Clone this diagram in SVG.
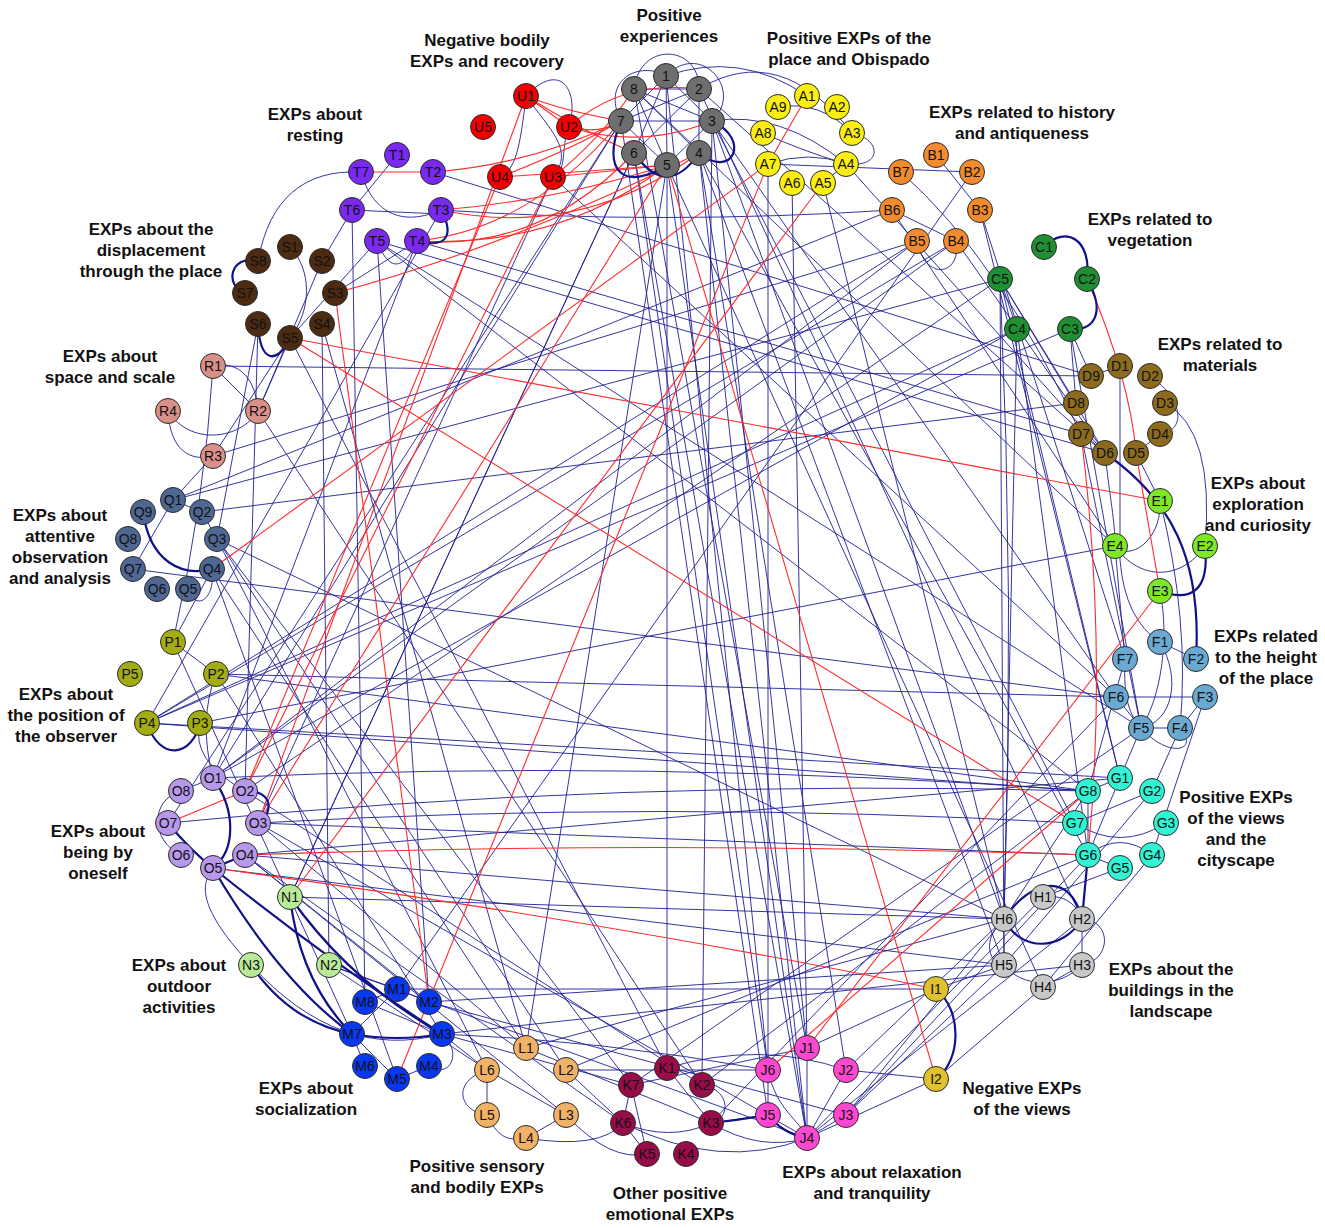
<svg xmlns="http://www.w3.org/2000/svg" width="1325" height="1228" viewBox="0 0 1325 1228">
<style>
.e{fill:none;stroke:#1f1f96;stroke-width:1;stroke-opacity:0.9}
.t{fill:none;stroke:#111188;stroke-width:2.2}
.r{fill:none;stroke:#ff2b2b;stroke-width:1.1}
circle{stroke:#2a2a2a;stroke-width:1}
.nl{font-family:"Liberation Sans",Arial,sans-serif;font-size:14px;fill:#111;text-anchor:middle}
.gl{font-family:"Liberation Sans",Arial,sans-serif;font-size:17px;font-weight:bold;fill:#111;text-anchor:middle}
.cP{fill:#6e6e6e}.cU{fill:#f20000}.cA{fill:#fbee10}.cB{fill:#f28a2e}.cC{fill:#1f8f33}
.cD{fill:#8c6b1e}.cE{fill:#7ee827}.cF{fill:#6aaad2}.cG{fill:#33f3d5}.cH{fill:#c8c8c8}
.cI{fill:#e0c22e}.cJ{fill:#ff48d2}.cK{fill:#990c4a}.cL{fill:#f0b266}.cM{fill:#0a37f2}
.cN{fill:#b8eb98}.cO{fill:#b898ea}.cQ2{fill:#a4ac14}.cQ{fill:#4f6893}.cR{fill:#d89088}
.cS{fill:#4d2b12}.cT{fill:#7a2af0}
</style>
<rect width="1325" height="1228" fill="#ffffff"/>
<g id="edges">
<path class="e" d="M666,76 L712,121"/><path class="e" d="M666,76 L667,165"/><path class="e" d="M666,76 L634,153"/>
<path class="e" d="M666,76 L621,121"/><path class="e" d="M699,89 L699,153"/><path class="e" d="M699,89 L634,153"/>
<path class="e" d="M699,89 L621,121"/><path class="e" d="M699,89 L634,89"/><path class="e" d="M634,89 L699,153"/>
<path class="e" d="M634,89 L667,165"/><path class="e" d="M634,89 L712,121"/><path class="e" d="M621,121 L712,121"/>
<path class="e" d="M667,165 L712,121"/><path class="e" d="M621,121 L667,165"/>
<path class="e" d="M666,76 C700,40 745,90 712,121"/><path class="e" d="M634,89 C640,40 700,45 699,89"/>
<path class="e" d="M621,121 C600,80 640,60 666,76"/>
<path class="e" d="M526,96 C560,60 580,90 569,127"/><path class="e" d="M526,96 C550,130 575,150 553,177"/>
<path class="e" d="M526,96 C520,150 515,170 500,177"/><path class="e" d="M569,127 C560,150 568,170 553,177"/>
<path class="e" d="M361,172 C370,205 395,230 441,210"/><path class="e" d="M352,210 L441,214"/>
<path class="e" d="M397,155 L352,210"/><path class="e" d="M377,241 C390,275 405,268 417,241"/>
<path class="e" d="M352,210 L322,261"/><path class="e" d="M361,172 Q275,168 258,261"/>
<path class="e" d="M441,210 Q660,225 892,210"/><path class="e" d="M433,172 L1091,376"/>
<path class="e" d="M377,241 L1141,728"/><path class="e" d="M377,241 L1088,791"/>
<path class="e" d="M417,241 L1081,434"/><path class="e" d="M377,241 L1105,453"/>
<path class="e" d="M352,210 L365,1002"/><path class="e" d="M377,241 L429,1002"/>
<path class="e" d="M377,241 L290,338"/><path class="e" d="M441,210 L147,723"/>
<path class="e" d="M417,241 L213,778"/>
<path class="e" d="M778,107 Q820,100 852,133"/><path class="e" d="M768,164 Q810,150 846,164"/>
<path class="e" d="M846,164 C885,168 880,138 852,133"/><path class="e" d="M763,133 Q800,150 846,164"/>
<path class="e" d="M823,183 L846,164"/><path class="e" d="M699,89 Q780,40 852,133"/>
<path class="e" d="M666,76 Q740,50 807,96"/><path class="e" d="M712,121 Q780,110 846,164"/>
<path class="e" d="M768,164 L768,1070"/><path class="e" d="M792,183 L807,1048"/>
<path class="e" d="M846,164 L1105,453"/><path class="e" d="M823,183 L1004,919"/>
<path class="e" d="M936,155 L980,210"/><path class="e" d="M972,172 L397,989"/>
<path class="e" d="M972,172 L768,164"/><path class="e" d="M892,210 L956,241"/>
<path class="e" d="M917,241 C925,282 962,276 956,241"/><path class="e" d="M892,210 L1115,546"/>
<path class="e" d="M901,172 Q1000,260 1081,434"/><path class="e" d="M980,210 L1120,778"/>
<path class="e" d="M980,210 L1125,659"/><path class="e" d="M956,241 L1105,453"/>
<path class="e" d="M956,241 L213,778"/><path class="e" d="M917,241 L147,723"/>
<path class="e" d="M956,241 L147,723"/><path class="e" d="M917,241 L213,456"/>
<path class="e" d="M1000,279 L1017,329"/><path class="e" d="M1000,279 L1004,965"/>
<path class="e" d="M1017,329 L1004,919"/><path class="e" d="M1000,279 Q1015,600 1004,919"/>
<path class="e" d="M1070,329 L1141,728"/><path class="e" d="M1000,279 L1105,453"/>
<path class="e" d="M1070,329 L147,723"/><path class="e" d="M1017,329 L213,778"/>
<path class="e" d="M1000,279 L245,791"/><path class="e" d="M1000,279 L1120,778"/>
<path class="e" d="M1070,329 L1076,403"/><path class="e" d="M1017,329 L1088,855"/>
<path class="e" d="M1091,376 L1120,366"/><path class="e" d="M1160,434 C1188,430 1182,398 1150,376"/>
<path class="e" d="M1105,453 L1081,434"/><path class="e" d="M1136,453 L1160,434"/>
<path class="e" d="M1076,403 L1000,279"/><path class="e" d="M1091,376 L1070,329"/>
<path class="e" d="M1091,376 L213,366"/><path class="e" d="M1076,403 L202,512"/>
<path class="e" d="M1136,453 L1160,501"/><path class="e" d="M1105,453 C1110,500 1115,520 1115,546"/>
<path class="e" d="M1120,366 L1120,560 Q1125,620 1160,642"/><path class="e" d="M1081,434 L1141,728"/>
<path class="e" d="M1165,403 Q1215,430 1205,546"/>
<path class="e" d="M1115,546 C1140,582 1182,580 1205,546"/><path class="e" d="M1160,501 C1162,540 1130,562 1115,546"/>
<path class="e" d="M1115,546 L1125,659"/><path class="e" d="M1160,591 C1170,640 1160,700 1141,728"/>
<path class="e" d="M1160,501 Q1190,620 1180,728"/>
<path class="e" d="M1160,642 L1196,659"/><path class="e" d="M1141,728 L1180,728"/>
<path class="e" d="M1116,697 L1141,728"/><path class="e" d="M1205,697 L1180,728"/>
<path class="e" d="M1160,642 C1182,680 1172,722 1141,728"/><path class="e" d="M1116,697 L1205,697"/>
<path class="e" d="M1125,659 C1123,700 1130,715 1141,728"/><path class="e" d="M1141,728 L1120,778"/>
<path class="e" d="M1180,728 L1152,791"/><path class="e" d="M1125,659 L1088,791"/>
<path class="e" d="M133,569 L1116,697"/><path class="e" d="M216,674 L1116,697"/>
<path class="e" d="M1141,728 C1170,760 1200,750 1180,728"/><path class="e" d="M1205,697 L1152,855"/>
<path class="e" d="M1088,791 L1120,778"/><path class="e" d="M1075,823 L1152,791"/>
<path class="e" d="M1088,855 L1120,868"/><path class="e" d="M1075,823 Q1120,852 1166,823"/>
<path class="e" d="M1088,855 L1120,778"/><path class="e" d="M1088,855 Q1120,830 1152,855"/>
<path class="e" d="M1088,791 L1088,855"/>
<path class="e" d="M1043,897 Q1072,893 1082,919"/><path class="e" d="M1082,919 L1082,965"/>
<path class="e" d="M1004,919 L1004,965"/><path class="e" d="M1004,965 C1022,988 1060,988 1082,965"/>
<path class="e" d="M1043,897 L1120,868"/><path class="e" d="M1004,919 L1088,791"/>
<path class="e" d="M1043,987 L1152,855"/><path class="e" d="M1082,919 C1112,920 1112,960 1082,965"/>
<path class="e" d="M1004,919 C980,940 990,965 1004,965"/><path class="e" d="M1043,987 L1082,965"/>
<path class="e" d="M1004,965 L1152,791"/>
<path class="e" d="M936,989 L1004,965"/><path class="e" d="M936,1079 L1043,987"/>
<path class="e" d="M936,989 L807,1048"/><path class="e" d="M936,1079 L807,1138"/>
<path class="e" d="M936,1079 L846,1070"/>
<path class="e" d="M768,1070 L768,1115"/><path class="e" d="M807,1138 L846,1115"/>
<path class="e" d="M807,1048 L807,1138"/><path class="e" d="M768,1070 C776,1110 800,1120 807,1138"/>
<path class="e" d="M846,1070 L807,1138"/><path class="e" d="M846,1115 L1004,965"/>
<path class="e" d="M846,1115 L1004,919"/><path class="e" d="M807,1138 L1043,897"/>
<path class="e" d="M846,1070 L1004,919"/><path class="e" d="M807,1138 L1082,919"/>
<path class="e" d="M768,1070 L634,153"/><path class="e" d="M807,1138 L667,165"/>
<path class="e" d="M807,1138 L634,153"/><path class="e" d="M807,1048 L634,89"/>
<path class="e" d="M768,1115 L621,121"/><path class="e" d="M807,1138 L699,153"/>
<path class="e" d="M807,1048 L712,121"/><path class="e" d="M768,1070 L666,76"/>
<path class="e" d="M846,1070 L699,153"/><path class="e" d="M807,1138 Q760,1152 711,1123"/>
<path class="e" d="M807,1138 Q720,1172 623,1123"/><path class="e" d="M846,1115 L1088,855"/>
<path class="e" d="M667,1068 L711,1123"/><path class="e" d="M631,1085 L623,1123"/>
<path class="e" d="M623,1123 L647,1154"/><path class="e" d="M631,1085 L647,1154"/>
<path class="e" d="M711,1123 L768,1115"/><path class="e" d="M702,1085 C732,1090 730,1120 711,1123"/>
<path class="e" d="M667,1068 L667,165"/><path class="e" d="M702,1085 L712,121"/>
<path class="e" d="M667,1068 Q760,1040 846,1070"/><path class="e" d="M631,1085 L807,1048"/>
<path class="e" d="M623,1123 Q670,1142 711,1123"/><path class="e" d="M631,1085 L217,539"/>
<path class="e" d="M702,1085 L258,411"/><path class="e" d="M623,1123 L245,855"/>
<path class="e" d="M711,1123 L1116,697"/><path class="e" d="M702,1085 L1088,791"/>
<path class="e" d="M631,1085 L1141,728"/>
<path class="e" d="M487,1070 L487,1115"/><path class="e" d="M487,1115 C500,1142 512,1140 526,1138"/>
<path class="e" d="M526,1138 L566,1115"/><path class="e" d="M487,1070 L566,1115"/>
<path class="e" d="M566,1070 L623,1123"/><path class="e" d="M526,1048 L711,1123"/>
<path class="e" d="M526,1048 L1004,919"/><path class="e" d="M566,1070 L1088,855"/>
<path class="e" d="M487,1070 C450,1082 460,1112 487,1115"/><path class="e" d="M566,1070 L217,539"/>
<path class="e" d="M526,1048 L212,569"/><path class="e" d="M487,1070 L442,1034"/>
<path class="e" d="M566,1115 Q610,1162 647,1154"/><path class="e" d="M526,1048 L667,165"/>
<path class="e" d="M566,1070 L768,1070"/><path class="e" d="M526,1138 Q600,1150 623,1123"/>
<path class="e" d="M365,1002 L397,989"/><path class="e" d="M397,989 L429,1002"/>
<path class="e" d="M429,1066 C452,1080 462,1050 442,1034"/><path class="e" d="M397,1079 L429,1066"/>
<path class="e" d="M365,1002 L442,1034"/><path class="e" d="M352,1034 L397,989"/>
<path class="e" d="M365,1066 L352,1034"/><path class="e" d="M397,1079 L352,1034"/>
<path class="e" d="M429,1002 L1004,965"/><path class="e" d="M442,1034 L1082,965"/>
<path class="e" d="M397,989 L936,989"/><path class="e" d="M442,1034 Q600,1040 768,1070"/>
<path class="e" d="M442,1034 L631,1085"/><path class="e" d="M429,1002 L846,1115"/>
<path class="e" d="M251,965 Q340,1062 442,1034"/><path class="e" d="M329,965 L397,989"/>
<path class="e" d="M290,897 L1004,919"/><path class="e" d="M251,965 C190,900 205,880 213,868"/>
<path class="e" d="M329,965 L487,1070"/><path class="e" d="M290,897 L634,153"/>
<path class="e" d="M329,965 L807,1138"/>
<path class="e" d="M181,855 C150,840 150,800 181,791"/><path class="e" d="M181,791 L213,778"/>
<path class="e" d="M213,778 L917,241"/><path class="e" d="M213,778 Q650,758 1088,791"/>
<path class="e" d="M258,823 Q660,800 1075,823"/><path class="e" d="M258,823 L1088,855"/>
<path class="e" d="M168,823 Q620,778 1088,791"/><path class="e" d="M245,855 L1004,919"/>
<path class="e" d="M213,868 L1004,965"/><path class="e" d="M245,855 L429,1002"/>
<path class="e" d="M245,855 L566,1115"/><path class="e" d="M258,823 L807,1138"/>
<path class="e" d="M245,791 L702,1085"/><path class="e" d="M213,778 L621,121"/>
<path class="e" d="M258,823 L526,1048"/><path class="e" d="M245,855 L1120,778"/>
<path class="e" d="M173,642 L216,674"/><path class="e" d="M173,642 L212,569"/>
<path class="e" d="M147,723 L1017,329"/><path class="e" d="M147,723 L1088,791"/>
<path class="e" d="M147,723 L1120,778"/><path class="e" d="M216,674 L1088,791"/>
<path class="e" d="M200,723 L1115,546"/><path class="e" d="M173,642 L352,1034"/>
<path class="e" d="M216,674 L442,1034"/><path class="e" d="M216,674 Q198,720 213,778"/>
<path class="e" d="M200,723 Q190,760 245,791"/>
<path class="e" d="M173,500 L202,512"/><path class="e" d="M217,539 L202,512"/>
<path class="e" d="M188,589 C195,612 216,600 212,569"/><path class="e" d="M133,569 L173,500"/>
<path class="e" d="M173,500 L892,210"/><path class="e" d="M173,500 L1000,279"/>
<path class="e" d="M217,539 L487,1070"/><path class="e" d="M212,569 L397,1079"/>
<path class="e" d="M217,539 L1004,919"/>
<path class="e" d="M213,366 C240,360 256,380 258,411"/><path class="e" d="M213,366 Q205,500 173,642"/>
<path class="e" d="M168,411 C170,450 190,462 213,456"/><path class="e" d="M168,411 C190,446 240,440 258,411"/>
<path class="e" d="M213,456 L173,500"/><path class="e" d="M258,411 L290,338"/>
<path class="e" d="M213,366 L258,411"/>
<path class="e" d="M290,247 C312,270 312,310 290,338"/><path class="e" d="M322,261 L258,411"/>
<path class="e" d="M322,324 L329,965"/><path class="e" d="M290,338 L213,456"/>
<path class="e" d="M258,324 L217,539"/><path class="e" d="M322,324 L526,1048"/>
<path class="e" d="M335,293 L417,241"/><path class="e" d="M258,324 L245,791"/>
<path class="e" d="M290,338 L667,1068"/>
<path class="e" d="M712,121 L1004,919"/><path class="e" d="M699,153 L1004,965"/>
<path class="e" d="M712,121 L1075,823"/><path class="e" d="M699,89 L1082,919"/>
<path class="e" d="M699,153 L1088,855"/><path class="e" d="M712,121 L1116,697"/>
<path class="e" d="M634,89 L1115,546"/><path class="e" d="M699,89 L1105,453"/>
<path class="e" d="M553,177 L1116,697"/><path class="e" d="M634,153 L290,897"/>
<path class="e" d="M621,121 L168,823"/><path class="e" d="M667,165 L1043,987"/>
<path class="e" d="M553,177 L258,823"/>
<path class="r" d="M361,172 L433,172"/><path class="r" d="M526,96 L569,127"/>
<path class="r" d="M526,96 Q560,110 621,121"/><path class="r" d="M526,96 Q580,130 634,153"/>
<path class="r" d="M569,127 Q600,135 621,121"/><path class="r" d="M569,127 Q620,80 699,89"/>
<path class="r" d="M569,127 Q640,150 712,121"/><path class="r" d="M553,177 Q600,140 634,89"/>
<path class="r" d="M553,177 Q600,172 667,165"/><path class="r" d="M500,177 Q570,150 621,121"/>
<path class="r" d="M500,177 Q580,172 667,165"/><path class="r" d="M526,96 L258,823"/>
<path class="r" d="M500,177 L245,791"/><path class="r" d="M441,210 Q560,200 667,165"/>
<path class="r" d="M441,210 Q580,240 699,153"/><path class="r" d="M417,241 Q560,248 667,165"/>
<path class="r" d="M417,241 Q530,230 621,121"/><path class="r" d="M417,241 Q540,252 634,153"/>
<path class="r" d="M433,172 Q530,165 621,121"/><path class="r" d="M768,164 L807,96"/>
<path class="r" d="M823,183 L290,897"/><path class="r" d="M1087,279 Q1130,380 1136,453"/>
<path class="r" d="M1136,453 L1160,591"/><path class="r" d="M1081,434 Q1108,650 1088,855"/>
<path class="r" d="M1160,591 L807,1048"/><path class="r" d="M768,1070 L1088,791"/>
<path class="r" d="M290,338 L1160,501"/><path class="r" d="M290,338 L1075,823"/>
<path class="r" d="M936,1079 L667,165"/><path class="r" d="M213,868 Q600,920 936,989"/>
<path class="r" d="M397,1079 L768,164"/><path class="r" d="M335,293 L429,1002"/>
<path class="r" d="M335,293 Q500,250 699,153"/><path class="r" d="M245,791 L553,177"/>
<path class="r" d="M258,823 L667,165"/><path class="r" d="M245,855 Q650,840 1088,855"/>
<path class="r" d="M212,569 L768,164"/><path class="r" d="M168,823 L245,791"/>
<path class="t" d="M634,153 Q667,200 699,153"/><path class="t" d="M621,121 C600,172 625,192 667,165"/>
<path class="t" d="M699,153 C732,180 752,140 712,121"/><path class="t" d="M417,241 C452,250 452,230 441,210"/>
<path class="t" d="M1044,247 C1066,224 1092,240 1087,279"/><path class="t" d="M1087,279 C1106,312 1095,331 1070,329"/>
<path class="t" d="M1105,453 C1172,500 1202,560 1196,659"/><path class="t" d="M1205,546 C1210,592 1190,602 1160,591"/>
<path class="t" d="M1004,919 C1020,952 1062,952 1082,919"/><path class="t" d="M1082,919 L1088,855"/>
<path class="t" d="M1082,919 C1070,870 1030,880 1004,919"/>
<path class="t" d="M936,989 C962,1010 962,1060 936,1079"/><path class="t" d="M768,1115 C780,1130 795,1136 807,1138"/>
<path class="t" d="M352,1034 Q397,1042 442,1034"/><path class="t" d="M290,897 Q350,982 442,1034"/>
<path class="t" d="M290,897 Q300,982 352,1034"/><path class="t" d="M251,965 Q290,1022 352,1034"/>
<path class="t" d="M213,778 C236,810 236,850 213,868"/><path class="t" d="M245,791 C276,790 272,816 258,823"/>
<path class="t" d="M168,823 Q190,850 213,868"/><path class="t" d="M213,868 L245,855"/>
<path class="t" d="M213,868 Q330,962 442,1034"/><path class="t" d="M213,868 Q280,982 352,1034"/>
<path class="t" d="M147,723 C160,762 192,757 200,723"/><path class="t" d="M143,512 C150,562 182,577 212,569"/>
<path class="t" d="M258,261 C230,254 224,286 245,293"/><path class="t" d="M258,324 C260,362 276,366 290,338"/>
<path class="t" d="M711,1123 Q740,1120 768,1115"/>
</g>
<g id="node-P1"><circle class="cP" cx="666" cy="76" r="12.5"/><text class="nl" x="666" y="81">1</text></g>
<g id="node-P2"><circle class="cP" cx="699" cy="89" r="12.5"/><text class="nl" x="699" y="94">2</text></g>
<g id="node-P3"><circle class="cP" cx="712" cy="121" r="12.5"/><text class="nl" x="712" y="126">3</text></g>
<g id="node-P4"><circle class="cP" cx="699" cy="153" r="12.5"/><text class="nl" x="699" y="158">4</text></g>
<g id="node-P5"><circle class="cP" cx="667" cy="165" r="12.5"/><text class="nl" x="667" y="170">5</text></g>
<g id="node-P6"><circle class="cP" cx="634" cy="153" r="12.5"/><text class="nl" x="634" y="158">6</text></g>
<g id="node-P7"><circle class="cP" cx="621" cy="121" r="12.5"/><text class="nl" x="621" y="126">7</text></g>
<g id="node-P8"><circle class="cP" cx="634" cy="89" r="12.5"/><text class="nl" x="634" y="94">8</text></g>
<g id="node-U1"><circle class="cU" cx="526" cy="96" r="12.5"/><text class="nl" x="526" y="101">U1</text></g>
<g id="node-U2"><circle class="cU" cx="569" cy="127" r="12.5"/><text class="nl" x="569" y="132">U2</text></g>
<g id="node-U3"><circle class="cU" cx="553" cy="177" r="12.5"/><text class="nl" x="553" y="182">U3</text></g>
<g id="node-U4"><circle class="cU" cx="500" cy="177" r="12.5"/><text class="nl" x="500" y="182">U4</text></g>
<g id="node-U5"><circle class="cU" cx="483" cy="127" r="12.5"/><text class="nl" x="483" y="132">U5</text></g>
<g id="node-A1"><circle class="cA" cx="807" cy="96" r="12.5"/><text class="nl" x="807" y="101">A1</text></g>
<g id="node-A2"><circle class="cA" cx="837" cy="107" r="12.5"/><text class="nl" x="837" y="112">A2</text></g>
<g id="node-A3"><circle class="cA" cx="852" cy="133" r="12.5"/><text class="nl" x="852" y="138">A3</text></g>
<g id="node-A4"><circle class="cA" cx="846" cy="164" r="12.5"/><text class="nl" x="846" y="169">A4</text></g>
<g id="node-A5"><circle class="cA" cx="823" cy="183" r="12.5"/><text class="nl" x="823" y="188">A5</text></g>
<g id="node-A6"><circle class="cA" cx="792" cy="183" r="12.5"/><text class="nl" x="792" y="188">A6</text></g>
<g id="node-A7"><circle class="cA" cx="768" cy="164" r="12.5"/><text class="nl" x="768" y="169">A7</text></g>
<g id="node-A8"><circle class="cA" cx="763" cy="133" r="12.5"/><text class="nl" x="763" y="138">A8</text></g>
<g id="node-A9"><circle class="cA" cx="778" cy="107" r="12.5"/><text class="nl" x="778" y="112">A9</text></g>
<g id="node-B1"><circle class="cB" cx="936" cy="155" r="12.5"/><text class="nl" x="936" y="160">B1</text></g>
<g id="node-B2"><circle class="cB" cx="972" cy="172" r="12.5"/><text class="nl" x="972" y="177">B2</text></g>
<g id="node-B3"><circle class="cB" cx="980" cy="210" r="12.5"/><text class="nl" x="980" y="215">B3</text></g>
<g id="node-B4"><circle class="cB" cx="956" cy="241" r="12.5"/><text class="nl" x="956" y="246">B4</text></g>
<g id="node-B5"><circle class="cB" cx="917" cy="241" r="12.5"/><text class="nl" x="917" y="246">B5</text></g>
<g id="node-B6"><circle class="cB" cx="892" cy="210" r="12.5"/><text class="nl" x="892" y="215">B6</text></g>
<g id="node-B7"><circle class="cB" cx="901" cy="172" r="12.5"/><text class="nl" x="901" y="177">B7</text></g>
<g id="node-C1"><circle class="cC" cx="1044" cy="247" r="12.5"/><text class="nl" x="1044" y="252">C1</text></g>
<g id="node-C2"><circle class="cC" cx="1087" cy="279" r="12.5"/><text class="nl" x="1087" y="284">C2</text></g>
<g id="node-C3"><circle class="cC" cx="1070" cy="329" r="12.5"/><text class="nl" x="1070" y="334">C3</text></g>
<g id="node-C4"><circle class="cC" cx="1017" cy="329" r="12.5"/><text class="nl" x="1017" y="334">C4</text></g>
<g id="node-C5"><circle class="cC" cx="1000" cy="279" r="12.5"/><text class="nl" x="1000" y="284">C5</text></g>
<g id="node-D1"><circle class="cD" cx="1120" cy="366" r="12.5"/><text class="nl" x="1120" y="371">D1</text></g>
<g id="node-D2"><circle class="cD" cx="1150" cy="376" r="12.5"/><text class="nl" x="1150" y="381">D2</text></g>
<g id="node-D3"><circle class="cD" cx="1165" cy="403" r="12.5"/><text class="nl" x="1165" y="408">D3</text></g>
<g id="node-D4"><circle class="cD" cx="1160" cy="434" r="12.5"/><text class="nl" x="1160" y="439">D4</text></g>
<g id="node-D5"><circle class="cD" cx="1136" cy="453" r="12.5"/><text class="nl" x="1136" y="458">D5</text></g>
<g id="node-D6"><circle class="cD" cx="1105" cy="453" r="12.5"/><text class="nl" x="1105" y="458">D6</text></g>
<g id="node-D7"><circle class="cD" cx="1081" cy="434" r="12.5"/><text class="nl" x="1081" y="439">D7</text></g>
<g id="node-D8"><circle class="cD" cx="1076" cy="403" r="12.5"/><text class="nl" x="1076" y="408">D8</text></g>
<g id="node-D9"><circle class="cD" cx="1091" cy="376" r="12.5"/><text class="nl" x="1091" y="381">D9</text></g>
<g id="node-E1"><circle class="cE" cx="1160" cy="501" r="12.5"/><text class="nl" x="1160" y="506">E1</text></g>
<g id="node-E2"><circle class="cE" cx="1205" cy="546" r="12.5"/><text class="nl" x="1205" y="551">E2</text></g>
<g id="node-E3"><circle class="cE" cx="1160" cy="591" r="12.5"/><text class="nl" x="1160" y="596">E3</text></g>
<g id="node-E4"><circle class="cE" cx="1115" cy="546" r="12.5"/><text class="nl" x="1115" y="551">E4</text></g>
<g id="node-F1"><circle class="cF" cx="1160" cy="642" r="12.5"/><text class="nl" x="1160" y="647">F1</text></g>
<g id="node-F2"><circle class="cF" cx="1196" cy="659" r="12.5"/><text class="nl" x="1196" y="664">F2</text></g>
<g id="node-F3"><circle class="cF" cx="1205" cy="697" r="12.5"/><text class="nl" x="1205" y="702">F3</text></g>
<g id="node-F4"><circle class="cF" cx="1180" cy="728" r="12.5"/><text class="nl" x="1180" y="733">F4</text></g>
<g id="node-F5"><circle class="cF" cx="1141" cy="728" r="12.5"/><text class="nl" x="1141" y="733">F5</text></g>
<g id="node-F6"><circle class="cF" cx="1116" cy="697" r="12.5"/><text class="nl" x="1116" y="702">F6</text></g>
<g id="node-F7"><circle class="cF" cx="1125" cy="659" r="12.5"/><text class="nl" x="1125" y="664">F7</text></g>
<g id="node-G1"><circle class="cG" cx="1120" cy="778" r="12.5"/><text class="nl" x="1120" y="783">G1</text></g>
<g id="node-G2"><circle class="cG" cx="1152" cy="791" r="12.5"/><text class="nl" x="1152" y="796">G2</text></g>
<g id="node-G3"><circle class="cG" cx="1166" cy="823" r="12.5"/><text class="nl" x="1166" y="828">G3</text></g>
<g id="node-G4"><circle class="cG" cx="1152" cy="855" r="12.5"/><text class="nl" x="1152" y="860">G4</text></g>
<g id="node-G5"><circle class="cG" cx="1120" cy="868" r="12.5"/><text class="nl" x="1120" y="873">G5</text></g>
<g id="node-G6"><circle class="cG" cx="1088" cy="855" r="12.5"/><text class="nl" x="1088" y="860">G6</text></g>
<g id="node-G7"><circle class="cG" cx="1075" cy="823" r="12.5"/><text class="nl" x="1075" y="828">G7</text></g>
<g id="node-G8"><circle class="cG" cx="1088" cy="791" r="12.5"/><text class="nl" x="1088" y="796">G8</text></g>
<g id="node-H1"><circle class="cH" cx="1043" cy="897" r="12.5"/><text class="nl" x="1043" y="902">H1</text></g>
<g id="node-H2"><circle class="cH" cx="1082" cy="919" r="12.5"/><text class="nl" x="1082" y="924">H2</text></g>
<g id="node-H3"><circle class="cH" cx="1082" cy="965" r="12.5"/><text class="nl" x="1082" y="970">H3</text></g>
<g id="node-H4"><circle class="cH" cx="1043" cy="987" r="12.5"/><text class="nl" x="1043" y="992">H4</text></g>
<g id="node-H5"><circle class="cH" cx="1004" cy="965" r="12.5"/><text class="nl" x="1004" y="970">H5</text></g>
<g id="node-H6"><circle class="cH" cx="1004" cy="919" r="12.5"/><text class="nl" x="1004" y="924">H6</text></g>
<g id="node-I1"><circle class="cI" cx="936" cy="989" r="12.5"/><text class="nl" x="936" y="994">I1</text></g>
<g id="node-I2"><circle class="cI" cx="936" cy="1079" r="12.5"/><text class="nl" x="936" y="1084">I2</text></g>
<g id="node-J1"><circle class="cJ" cx="807" cy="1048" r="12.5"/><text class="nl" x="807" y="1053">J1</text></g>
<g id="node-J2"><circle class="cJ" cx="846" cy="1070" r="12.5"/><text class="nl" x="846" y="1075">J2</text></g>
<g id="node-J3"><circle class="cJ" cx="846" cy="1115" r="12.5"/><text class="nl" x="846" y="1120">J3</text></g>
<g id="node-J4"><circle class="cJ" cx="807" cy="1138" r="12.5"/><text class="nl" x="807" y="1143">J4</text></g>
<g id="node-J5"><circle class="cJ" cx="768" cy="1115" r="12.5"/><text class="nl" x="768" y="1120">J5</text></g>
<g id="node-J6"><circle class="cJ" cx="768" cy="1070" r="12.5"/><text class="nl" x="768" y="1075">J6</text></g>
<g id="node-K1"><circle class="cK" cx="667" cy="1068" r="12.5"/><text class="nl" x="667" y="1073">K1</text></g>
<g id="node-K2"><circle class="cK" cx="702" cy="1085" r="12.5"/><text class="nl" x="702" y="1090">K2</text></g>
<g id="node-K3"><circle class="cK" cx="711" cy="1123" r="12.5"/><text class="nl" x="711" y="1128">K3</text></g>
<g id="node-K4"><circle class="cK" cx="686" cy="1154" r="12.5"/><text class="nl" x="686" y="1159">K4</text></g>
<g id="node-K5"><circle class="cK" cx="647" cy="1154" r="12.5"/><text class="nl" x="647" y="1159">K5</text></g>
<g id="node-K6"><circle class="cK" cx="623" cy="1123" r="12.5"/><text class="nl" x="623" y="1128">K6</text></g>
<g id="node-K7"><circle class="cK" cx="631" cy="1085" r="12.5"/><text class="nl" x="631" y="1090">K7</text></g>
<g id="node-L1"><circle class="cL" cx="526" cy="1048" r="12.5"/><text class="nl" x="526" y="1053">L1</text></g>
<g id="node-L2"><circle class="cL" cx="566" cy="1070" r="12.5"/><text class="nl" x="566" y="1075">L2</text></g>
<g id="node-L3"><circle class="cL" cx="566" cy="1115" r="12.5"/><text class="nl" x="566" y="1120">L3</text></g>
<g id="node-L4"><circle class="cL" cx="526" cy="1138" r="12.5"/><text class="nl" x="526" y="1143">L4</text></g>
<g id="node-L5"><circle class="cL" cx="487" cy="1115" r="12.5"/><text class="nl" x="487" y="1120">L5</text></g>
<g id="node-L6"><circle class="cL" cx="487" cy="1070" r="12.5"/><text class="nl" x="487" y="1075">L6</text></g>
<g id="node-M1"><circle class="cM" cx="397" cy="989" r="12.5"/><text class="nl" x="397" y="994">M1</text></g>
<g id="node-M2"><circle class="cM" cx="429" cy="1002" r="12.5"/><text class="nl" x="429" y="1007">M2</text></g>
<g id="node-M3"><circle class="cM" cx="442" cy="1034" r="12.5"/><text class="nl" x="442" y="1039">M3</text></g>
<g id="node-M4"><circle class="cM" cx="429" cy="1066" r="12.5"/><text class="nl" x="429" y="1071">M4</text></g>
<g id="node-M5"><circle class="cM" cx="397" cy="1079" r="12.5"/><text class="nl" x="397" y="1084">M5</text></g>
<g id="node-M6"><circle class="cM" cx="365" cy="1066" r="12.5"/><text class="nl" x="365" y="1071">M6</text></g>
<g id="node-M7"><circle class="cM" cx="352" cy="1034" r="12.5"/><text class="nl" x="352" y="1039">M7</text></g>
<g id="node-M8"><circle class="cM" cx="365" cy="1002" r="12.5"/><text class="nl" x="365" y="1007">M8</text></g>
<g id="node-N1"><circle class="cN" cx="290" cy="897" r="12.5"/><text class="nl" x="290" y="902">N1</text></g>
<g id="node-N2"><circle class="cN" cx="329" cy="965" r="12.5"/><text class="nl" x="329" y="970">N2</text></g>
<g id="node-N3"><circle class="cN" cx="251" cy="965" r="12.5"/><text class="nl" x="251" y="970">N3</text></g>
<g id="node-O1"><circle class="cO" cx="213" cy="778" r="12.5"/><text class="nl" x="213" y="783">O1</text></g>
<g id="node-O2"><circle class="cO" cx="245" cy="791" r="12.5"/><text class="nl" x="245" y="796">O2</text></g>
<g id="node-O3"><circle class="cO" cx="258" cy="823" r="12.5"/><text class="nl" x="258" y="828">O3</text></g>
<g id="node-O4"><circle class="cO" cx="245" cy="855" r="12.5"/><text class="nl" x="245" y="860">O4</text></g>
<g id="node-O5"><circle class="cO" cx="213" cy="868" r="12.5"/><text class="nl" x="213" y="873">O5</text></g>
<g id="node-O6"><circle class="cO" cx="181" cy="855" r="12.5"/><text class="nl" x="181" y="860">O6</text></g>
<g id="node-O7"><circle class="cO" cx="168" cy="823" r="12.5"/><text class="nl" x="168" y="828">O7</text></g>
<g id="node-O8"><circle class="cO" cx="181" cy="791" r="12.5"/><text class="nl" x="181" y="796">O8</text></g>
<g id="node-Pp1"><circle class="cQ2" cx="173" cy="642" r="12.5"/><text class="nl" x="173" y="647">P1</text></g>
<g id="node-Pp2"><circle class="cQ2" cx="216" cy="674" r="12.5"/><text class="nl" x="216" y="679">P2</text></g>
<g id="node-Pp3"><circle class="cQ2" cx="200" cy="723" r="12.5"/><text class="nl" x="200" y="728">P3</text></g>
<g id="node-Pp4"><circle class="cQ2" cx="147" cy="723" r="12.5"/><text class="nl" x="147" y="728">P4</text></g>
<g id="node-Pp5"><circle class="cQ2" cx="130" cy="674" r="12.5"/><text class="nl" x="130" y="679">P5</text></g>
<g id="node-Q1"><circle class="cQ" cx="173" cy="500" r="12.5"/><text class="nl" x="173" y="505">Q1</text></g>
<g id="node-Q2"><circle class="cQ" cx="202" cy="512" r="12.5"/><text class="nl" x="202" y="517">Q2</text></g>
<g id="node-Q3"><circle class="cQ" cx="217" cy="539" r="12.5"/><text class="nl" x="217" y="544">Q3</text></g>
<g id="node-Q4"><circle class="cQ" cx="212" cy="569" r="12.5"/><text class="nl" x="212" y="574">Q4</text></g>
<g id="node-Q5"><circle class="cQ" cx="188" cy="589" r="12.5"/><text class="nl" x="188" y="594">Q5</text></g>
<g id="node-Q6"><circle class="cQ" cx="157" cy="589" r="12.5"/><text class="nl" x="157" y="594">Q6</text></g>
<g id="node-Q7"><circle class="cQ" cx="133" cy="569" r="12.5"/><text class="nl" x="133" y="574">Q7</text></g>
<g id="node-Q8"><circle class="cQ" cx="128" cy="539" r="12.5"/><text class="nl" x="128" y="544">Q8</text></g>
<g id="node-Q9"><circle class="cQ" cx="143" cy="512" r="12.5"/><text class="nl" x="143" y="517">Q9</text></g>
<g id="node-R1"><circle class="cR" cx="213" cy="366" r="12.5"/><text class="nl" x="213" y="371">R1</text></g>
<g id="node-R2"><circle class="cR" cx="258" cy="411" r="12.5"/><text class="nl" x="258" y="416">R2</text></g>
<g id="node-R3"><circle class="cR" cx="213" cy="456" r="12.5"/><text class="nl" x="213" y="461">R3</text></g>
<g id="node-R4"><circle class="cR" cx="168" cy="411" r="12.5"/><text class="nl" x="168" y="416">R4</text></g>
<g id="node-S1"><circle class="cS" cx="290" cy="247" r="12.5"/><text class="nl" x="290" y="252">S1</text></g>
<g id="node-S2"><circle class="cS" cx="322" cy="261" r="12.5"/><text class="nl" x="322" y="266">S2</text></g>
<g id="node-S3"><circle class="cS" cx="335" cy="293" r="12.5"/><text class="nl" x="335" y="298">S3</text></g>
<g id="node-S4"><circle class="cS" cx="322" cy="324" r="12.5"/><text class="nl" x="322" y="329">S4</text></g>
<g id="node-S5"><circle class="cS" cx="290" cy="338" r="12.5"/><text class="nl" x="290" y="343">S5</text></g>
<g id="node-S6"><circle class="cS" cx="258" cy="324" r="12.5"/><text class="nl" x="258" y="329">S6</text></g>
<g id="node-S7"><circle class="cS" cx="245" cy="293" r="12.5"/><text class="nl" x="245" y="298">S7</text></g>
<g id="node-S8"><circle class="cS" cx="258" cy="261" r="12.5"/><text class="nl" x="258" y="266">S8</text></g>
<g id="node-T1"><circle class="cT" cx="397" cy="155" r="12.5"/><text class="nl" x="397" y="160">T1</text></g>
<g id="node-T2"><circle class="cT" cx="433" cy="172" r="12.5"/><text class="nl" x="433" y="177">T2</text></g>
<g id="node-T3"><circle class="cT" cx="441" cy="210" r="12.5"/><text class="nl" x="441" y="215">T3</text></g>
<g id="node-T4"><circle class="cT" cx="417" cy="241" r="12.5"/><text class="nl" x="417" y="246">T4</text></g>
<g id="node-T5"><circle class="cT" cx="377" cy="241" r="12.5"/><text class="nl" x="377" y="246">T5</text></g>
<g id="node-T6"><circle class="cT" cx="352" cy="210" r="12.5"/><text class="nl" x="352" y="215">T6</text></g>
<g id="node-T7"><circle class="cT" cx="361" cy="172" r="12.5"/><text class="nl" x="361" y="177">T7</text></g>
<g id="labels">
<text class="gl" x="669" y="21">Positive</text><text class="gl" x="669" y="42">experiences</text>
<text class="gl" x="487" y="46">Negative bodily</text><text class="gl" x="487" y="67">EXPs and recovery</text>
<text class="gl" x="849" y="44">Positive EXPs of the</text><text class="gl" x="849" y="65">place and Obispado</text>
<text class="gl" x="315" y="120">EXPs about</text><text class="gl" x="315" y="141">resting</text>
<text class="gl" x="1022" y="118">EXPs related to history</text><text class="gl" x="1022" y="139">and antiqueness</text>
<text class="gl" x="1150" y="225">EXPs related to</text><text class="gl" x="1150" y="246">vegetation</text>
<text class="gl" x="151" y="235">EXPs about the</text><text class="gl" x="151" y="256">displacement</text><text class="gl" x="151" y="277">through the place</text>
<text class="gl" x="1220" y="350">EXPs related to</text><text class="gl" x="1220" y="371">materials</text>
<text class="gl" x="110" y="362">EXPs about</text><text class="gl" x="110" y="383">space and scale</text>
<text class="gl" x="1258" y="489">EXPs about</text><text class="gl" x="1258" y="510">exploration</text><text class="gl" x="1258" y="531">and curiosity</text>
<text class="gl" x="60" y="521">EXPs about</text><text class="gl" x="60" y="542">attentive</text><text class="gl" x="60" y="563">observation</text><text class="gl" x="60" y="584">and analysis</text>
<text class="gl" x="1266" y="642">EXPs related</text><text class="gl" x="1266" y="663">to the height</text><text class="gl" x="1266" y="684">of the place</text>
<text class="gl" x="66" y="700">EXPs about</text><text class="gl" x="66" y="721">the position of</text><text class="gl" x="66" y="742">the observer</text>
<text class="gl" x="1236" y="803">Positive EXPs</text><text class="gl" x="1236" y="824">of the views</text><text class="gl" x="1236" y="845">and the</text><text class="gl" x="1236" y="866">cityscape</text>
<text class="gl" x="98" y="837">EXPs about</text><text class="gl" x="98" y="858">being by</text><text class="gl" x="98" y="879">oneself</text>
<text class="gl" x="179" y="971">EXPs about</text><text class="gl" x="179" y="992">outdoor</text><text class="gl" x="179" y="1013">activities</text>
<text class="gl" x="1171" y="975">EXPs about the</text><text class="gl" x="1171" y="996">buildings in the</text><text class="gl" x="1171" y="1017">landscape</text>
<text class="gl" x="1022" y="1094">Negative EXPs</text><text class="gl" x="1022" y="1115">of the views</text>
<text class="gl" x="306" y="1094">EXPs about</text><text class="gl" x="306" y="1115">socialization</text>
<text class="gl" x="477" y="1172">Positive sensory</text><text class="gl" x="477" y="1193">and bodily EXPs</text>
<text class="gl" x="872" y="1178">EXPs about relaxation</text><text class="gl" x="872" y="1199">and tranquility</text>
<text class="gl" x="670" y="1199">Other positive</text><text class="gl" x="670" y="1220">emotional EXPs</text>
</g>
</svg>
